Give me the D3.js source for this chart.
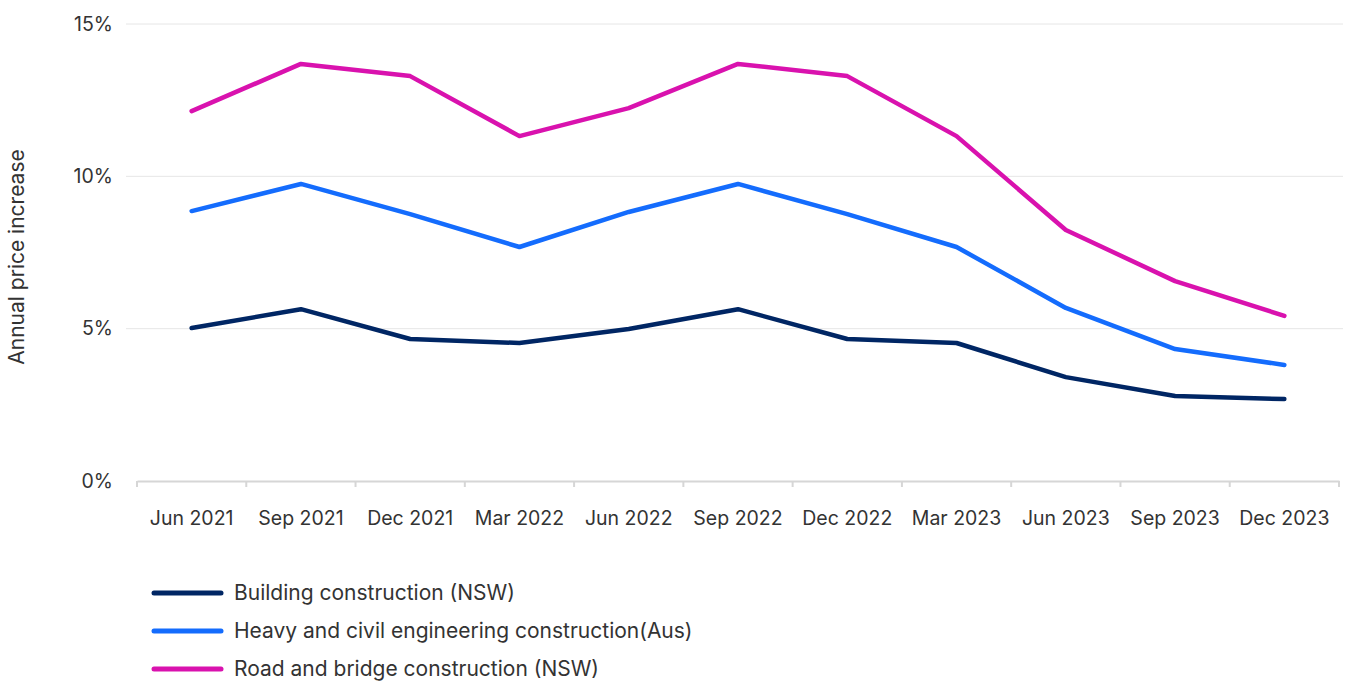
<!DOCTYPE html>
<html><head><meta charset="utf-8">
<script src="https://cdn.jsdelivr.net/npm/d3@7"></script>
<style>
body{margin:0;background:#fff;}
text{font-family:Inter,"Noto Sans",sans-serif;fill:#333;font-weight:400;}
</style></head>
<body><svg id="c" width="1346" height="681"></svg>
<script>
const categories = ["Jun 2021","Sep 2021","Dec 2021","Mar 2022","Jun 2022","Sep 2022","Dec 2022","Mar 2023","Jun 2023","Sep 2023","Dec 2023"];
const building = [5.02,5.64,4.66,4.53,4.99,5.64,4.66,4.53,3.41,2.79,2.69];
const heavy = [8.86,9.75,8.76,7.68,8.83,9.75,8.76,7.68,5.68,4.33,3.81];
const road = [12.14,13.69,13.29,11.32,12.24,13.69,13.29,11.32,8.24,6.56,5.42];
const yTicks = [0,5,10,15];
const seriesNames = ["Building construction (NSW)","Heavy and civil engineering construction(Aus)","Road and bridge construction (NSW)"];
const colors = ["#002664","#146CFD","#D912AE"];

const svg = d3.select("#c");
const x = d3.scaleBand().domain(categories).range([137,1339]);
const y = d3.scaleLinear().domain([0,15]).range([481,24]);

// gridlines
const grid = svg.append("g");
grid.selectAll("line").data(yTicks.filter(d=>d>0)).join("line")
  .attr("x1",126).attr("x2",1343).attr("y1",d=>y(d)).attr("y2",d=>y(d))
  .attr("stroke","#e6e6e6").attr("stroke-width",1);

// y labels
svg.append("g").selectAll("text").data(yTicks).join("text")
  .attr("x",113).attr("y",d=>y(d)).attr("dy","0.35em").attr("text-anchor","end")
  .attr("font-size",19.5).text(d=>d+"%");

// x axis
const xAxis = svg.append("g").attr("transform","translate(0,481)")
  .call(d3.axisBottom(x).tickSize(0).tickPadding(30));
xAxis.select(".domain").attr("stroke","#d6d6d6").attr("stroke-width",2);
xAxis.selectAll("text").attr("font-size",19.5).attr("fill","#333").style("font-family","Inter, sans-serif");
const bounds = categories.map(c=>x(c)).concat([x.range()[1]]);
svg.append("g").selectAll("line").data(bounds).join("line")
  .attr("x1",d=>d).attr("x2",d=>d).attr("y1",481).attr("y2",487)
  .attr("stroke","#d6d6d6").attr("stroke-width",2);

// axis title
svg.append("text").attr("transform","translate(24,257) rotate(-90)")
  .attr("text-anchor","middle").attr("font-size",21).text("Annual price increase");

// lines
const line = d3.line().x((d,i)=>x(categories[i])+x.bandwidth()/2).y(d=>y(d));
[building,heavy,road].forEach((s,i)=>{
  svg.append("path").datum(s).attr("d",line).attr("fill","none")
    .attr("stroke",colors[i]).attr("stroke-width",4.5)
    .attr("stroke-linecap","round").attr("stroke-linejoin","round");
});

// legend
const lg = svg.append("g");
seriesNames.forEach((n,i)=>{
  const ly = 593 + i*38;
  lg.append("line").attr("x1",154).attr("x2",221).attr("y1",ly).attr("y2",ly)
    .attr("stroke",colors[i]).attr("stroke-width",5).attr("stroke-linecap","round");
  lg.append("text").attr("x",234).attr("y",ly).attr("dy","0.35em").attr("font-size",21).text(n);
});
</script></body></html>
